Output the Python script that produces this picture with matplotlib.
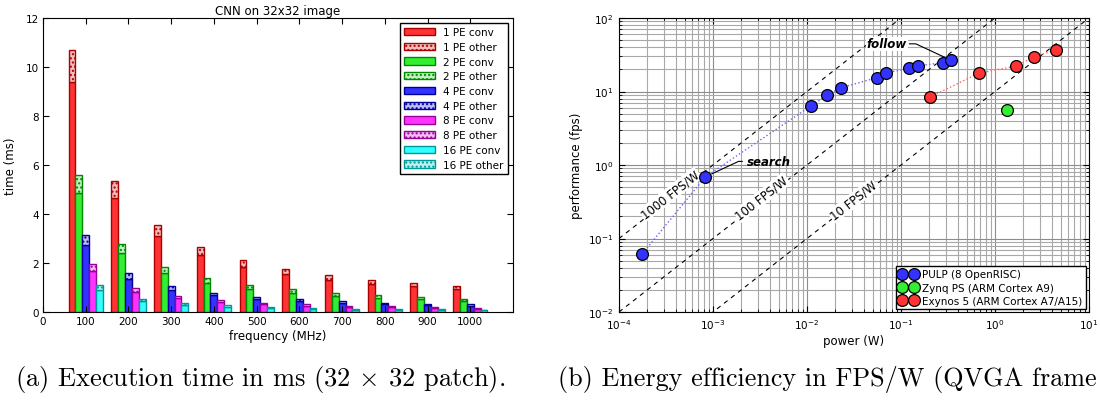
import numpy as np
import matplotlib
matplotlib.use("Agg")
import matplotlib.pyplot as plt

# ---- execution time data (ms) ----
freqs = [100, 200, 300, 400, 500, 600, 700, 800, 900, 1000]
pe_counts = [1, 2, 4, 8, 16]
conv_1pe = [9.39, 4.65, 3.10, 2.31, 1.85, 1.55, 1.32, 1.16, 1.05, 0.93]
total_1pe = [10.68, 5.33, 3.55, 2.65, 2.12, 1.77, 1.51, 1.32, 1.18, 1.06]
conv_2pe = [4.86, 2.42, 1.61, 1.20, 0.95, 0.79, 0.67, 0.59, 0.52, 0.46]
total_2pe = [5.58, 2.78, 1.85, 1.39, 1.12, 0.93, 0.78, 0.69, 0.61, 0.54]
conv_4pe = [2.72, 1.36, 0.91, 0.68, 0.52, 0.44, 0.38, 0.33, 0.30, 0.26]
total_4pe = [3.16, 1.58, 1.06, 0.79, 0.61, 0.52, 0.45, 0.38, 0.34, 0.31]
conv_8pe = [1.66, 0.82, 0.56, 0.41, 0.31, 0.26, 0.20, 0.19, 0.16, 0.14]
total_8pe = [1.95, 0.98, 0.65, 0.48, 0.38, 0.33, 0.26, 0.23, 0.20, 0.18]
conv_16pe = [0.91, 0.44, 0.30, 0.20, 0.15, 0.12, 0.10, 0.10, 0.08, 0.07]
total_16pe = [1.12, 0.54, 0.38, 0.27, 0.20, 0.16, 0.14, 0.12, 0.11, 0.10]

# ---- energy efficiency data ----
pulp_power = [1.77e-4, 8.3e-4, 1.1e-2, 1.62e-2, 2.28e-2, 5.5e-2, 7.0e-2, 0.123, 0.152, 0.282, 0.343]
pulp_fps = [0.062, 0.69, 6.35, 8.85, 11.2, 15.4, 18.0, 20.6, 22.4, 24.7, 26.5]
zynq_power = [1.33]
zynq_fps = [5.6]
exynos_power = [0.204, 0.67, 1.67, 2.6, 4.42]
exynos_fps = [8.4, 17.7, 22.2, 29.7, 36.7]
efficiency_levels = [1000, 100, 10]

plt.rcParams['font.family'] = ['DejaVu Sans']

fig = plt.figure(figsize=(11.0, 4.06), dpi=100)
ax1 = fig.add_axes([43/1100, 1 - 313/406, 470/1100, 294/406])
ax2 = fig.add_axes([619/1100, 1 - 313/406, 470/1100, 294/406])

# ---------- left panel: stacked bars ----------
convs = [conv_1pe, conv_2pe, conv_4pe, conv_8pe, conv_16pe]
totals = [total_1pe, total_2pe, total_4pe, total_8pe, total_16pe]
fills = ['#ff3333', '#33ee33', '#3333ff', '#ff33ff', '#33ffff']
lights = ['#f2bcbc', '#c0f0c0', '#bcbcf2', '#f2bcf2', '#bcf0f0']
edges = ['#aa0000', '#008800', '#000099', '#990099', '#009999']
width = 16
x = np.array(freqs, dtype=float)
for i, pe in enumerate(pe_counts):
    pos = x - 40 + i * width
    conv = np.array(convs[i])
    other = np.array(totals[i]) - conv
    ax1.bar(pos, conv, width, align='edge', color=fills[i], edgecolor=edges[i],
            linewidth=1.0, label=f'{pe} PE conv')
    ax1.bar(pos, other, width, bottom=conv, align='edge', color=lights[i],
            edgecolor=edges[i], hatch='....', linewidth=1.0, label=f'{pe} PE other')

ax1.set_xlim(0, 1100)
ax1.set_ylim(0, 12)
ax1.set_xticks([0] + freqs)
ax1.set_yticks(range(0, 13, 2))
ax1.tick_params(direction='in', top=True, right=True, labelsize=7.5, length=4, pad=3)
ax1.set_title('CNN on 32x32 image', fontsize=8.5, pad=3)
ax1.set_xlabel('frequency (MHz)', fontsize=8.5, labelpad=2)
ax1.set_ylabel('time (ms)', fontsize=8.5, labelpad=6)
leg1 = ax1.legend(loc='upper right', fontsize=7.5, fancybox=False, framealpha=1,
                  edgecolor='black', handlelength=3.0, labelspacing=0.45,
                  borderpad=0.4, handletextpad=0.8)
leg1.get_frame().set_linewidth(1.0)

# ---------- right panel: fps vs power ----------
ax2.set_xscale('log')
ax2.set_yscale('log')
ax2.set_xlim(1e-4, 1e1)
ax2.set_ylim(1e-2, 1e2)
ax2.grid(True, which='major', color='#8c8c8c', linewidth=0.8, linestyle='-')
ax2.grid(True, which='minor', color='#a8a8a8', linewidth=0.8, linestyle='-')
ax2.set_axisbelow(True)

pw = np.array([1e-4, 1e1])
for lvl in efficiency_levels:
    ax2.plot(pw, pw * lvl, linestyle='--', color='black', linewidth=0.8,
             dashes=(4, 4), zorder=2)

ax2.plot(pulp_power, pulp_fps, ':', color='#6666ff', linewidth=1.0, zorder=3)
ax2.plot(exynos_power, exynos_fps, ':', color='#ff6666', linewidth=1.0, zorder=3)
mk = dict(marker='o', markersize=8.5, markeredgecolor='black', markeredgewidth=0.9,
          linestyle='none', zorder=4)
ax2.plot(pulp_power, pulp_fps, color='#3333ff', markerfacecolor='#3333ff',
         label='PULP (8 OpenRISC)', **mk)
ax2.plot(zynq_power, zynq_fps, color='#33ee33', markerfacecolor='#33ee33',
         label='Zynq PS (ARM Cortex A9)', **mk)
ax2.plot(exynos_power, exynos_fps, color='#ff3333', markerfacecolor='#ff3333',
         label='Exynos 5 (ARM Cortex A7/A15)', **mk)

# rotated efficiency labels
box = dict(facecolor='white', edgecolor='none', pad=0.5)
ang = np.degrees(np.arctan(73.5 / 94.0))
label_pos = {1000: (3.5e-4, 0.40), 100: (3.3e-3, 0.36), 10: (3.1e-2, 0.33)}
for lvl in efficiency_levels:
    px, py = label_pos[lvl]
    ax2.text(px, py, f'{lvl} FPS/W', rotation=ang, rotation_mode='anchor',
             ha='center', va='center', fontsize=8.5, bbox=box, zorder=3)

ax2.annotate('search', xy=(pulp_power[1], pulp_fps[1]), xytext=(3.9e-3, 1.12),
             fontsize=8.5, fontweight='bold', fontstyle='italic',
             ha='center', va='center', zorder=5,
             arrowprops=dict(arrowstyle='-', color='black', linewidth=0.8,
                             shrinkA=1, shrinkB=5,
                             connectionstyle='angle,angleA=0,angleB=25,rad=0'))
ax2.annotate('follow', xy=(pulp_power[-1], pulp_fps[-1]), xytext=(0.071, 44.5),
             fontsize=8.5, fontweight='bold', fontstyle='italic',
             ha='center', va='center', zorder=5,
             bbox=dict(facecolor='white', edgecolor='none', pad=0.5),
             arrowprops=dict(arrowstyle='-', color='black', linewidth=0.8,
                             shrinkA=1, shrinkB=5,
                             connectionstyle='angle,angleA=0,angleB=-25,rad=0'))

ax2.tick_params(which='both', direction='in', top=True, right=True, labelsize=7.5, pad=4)
ax2.tick_params(which='major', length=4)
ax2.tick_params(which='minor', length=2)
ax2.set_xlabel('power (W)', fontsize=8.5, labelpad=2)
ax2.set_ylabel('performance (fps)', fontsize=8.5, labelpad=4)
leg2 = ax2.legend(loc='lower right', fontsize=7.5, numpoints=2, fancybox=False,
                  framealpha=1, edgecolor='black', handlelength=1.75,
                  labelspacing=0.3, borderpad=0.3, handletextpad=0.5,
                  borderaxespad=0.3)
leg2.get_frame().set_linewidth(1.0)

# ---------- captions ----------
fig.text(15/1100, 1 - 380/406, r'(a) Execution time in ms (32 $\times$ 32 patch).',
         family='cmr10', math_fontfamily='cm', fontsize=19, ha='left', va='center')
fig.text(558/1100, 1 - 380/406, '(b) Energy efficiency in FPS/W (QVGA frame',
         family='cmr10', fontsize=18.8, ha='left', va='center')

fig.savefig('out.png', dpi=100)
